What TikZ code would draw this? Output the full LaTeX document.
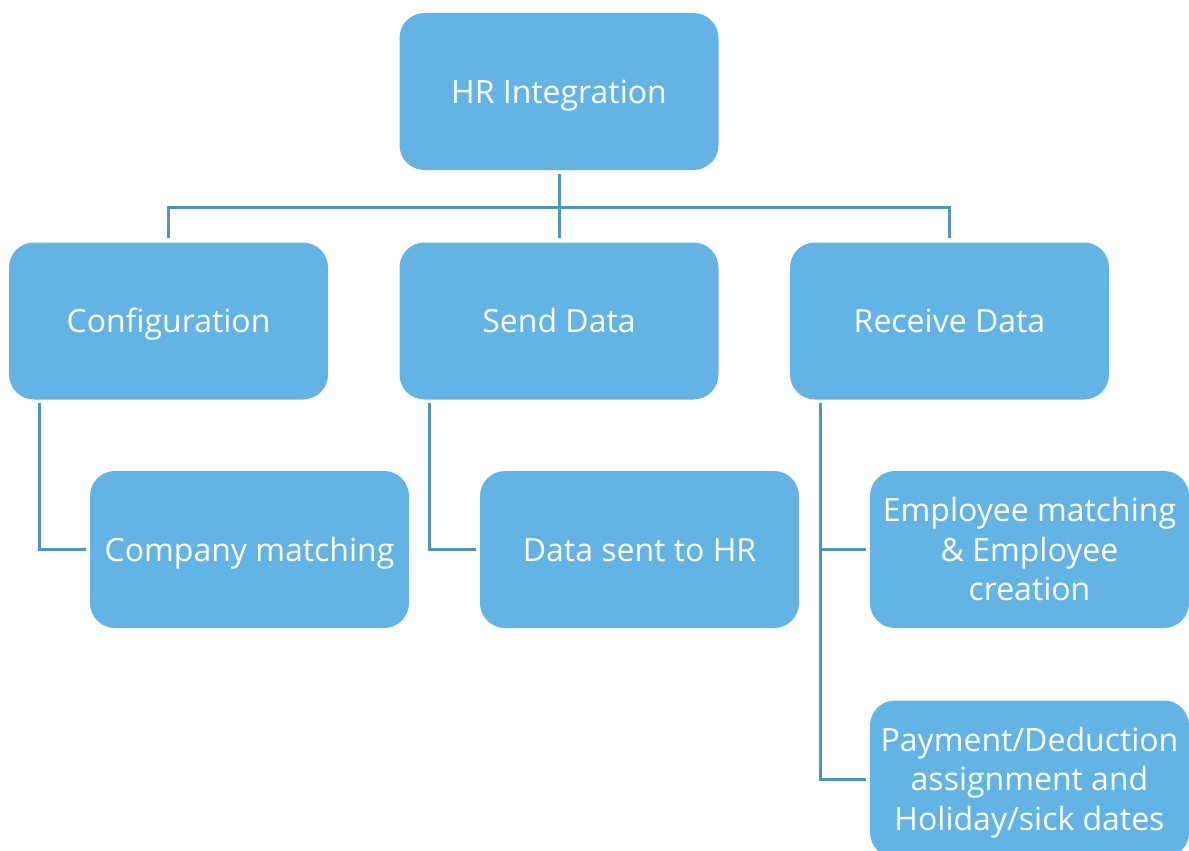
\documentclass[tikz,border=0pt]{standalone}
\usepackage{fontspec}
\setmainfont{Open Sans}
\usetikzlibrary{calc}
\definecolor{boxfill}{HTML}{63B4E4}
\definecolor{linecol}{HTML}{4E95BE}
\begin{document}
\begin{tikzpicture}[x=1pt,y=-1pt,
  box/.style={fill=boxfill, draw=none, rounded corners=25pt, minimum width=319pt, minimum height=157pt,
    text=white, align=center, inner sep=0pt, font=\fontsize{32}{39.5}\selectfont,
    text height=23pt, text depth=0pt},
  box3/.style={box, text height=102pt},
  conn/.style={draw=linecol, line width=3pt}]
\useasboundingbox (0,0) rectangle (1189,851);
\node[box] (hr)   at (559,91.5) {HR Integration};
\node[box] (conf) at (168.5,321) {Configuration};
\node[box] (send) at (559,321) {Send Data};
\node[box] (recv) at (949.5,321) {Receive Data};
\node[box] (comp) at (249.5,549.5) {Company matching};
\node[box] (dsent) at (639.5,549.5) {Data sent to HR};
\node[box3] (emp)  at (1029.5,549.5) {Employee matching\\ \& Employee\\ creation};
\node[box3] (pay)  at (1029.5,779) {Payment/Deduction\\ assignment and\\ Holiday/sick dates};
\coordinate (bus) at (559,207);
\draw[conn] ($(hr.south)+(0,4)$) -- ($(send.north)+(0,-4)$);
\draw[conn] ($(conf.north)+(0,-4)$) |- (bus) -| ($(recv.north)+(0,-4)$);
\draw[conn] ($(conf.south west)+(31,3)$) |- ($(comp.west)+(-4,0)$);
\draw[conn] ($(send.south west)+(30,3)$) |- ($(dsent.west)+(-4,0)$);
\draw[conn] ($(recv.south west)+(31,3)$) |- ($(pay.west)+(-4,0)$);
\draw[conn] ($(emp.west)+(-49,0)$) -- ($(emp.west)+(-4,0)$);
\end{tikzpicture}
\end{document}
